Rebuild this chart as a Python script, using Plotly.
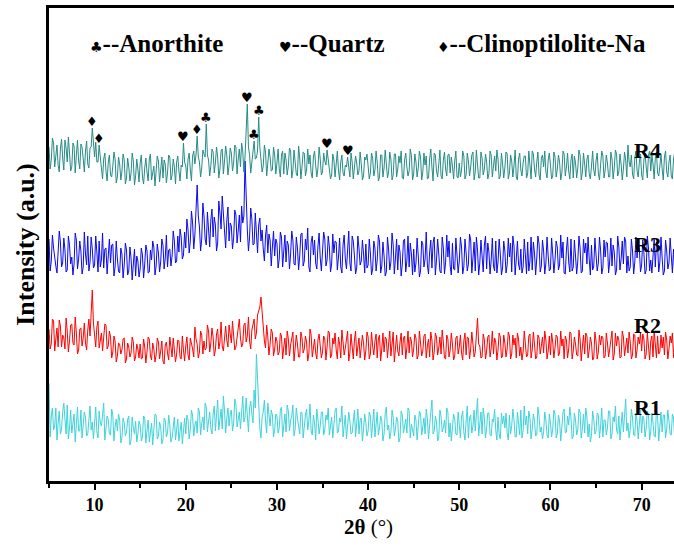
import numpy as np
import plotly.graph_objects as go

# 2-theta sampling: main points (a) at 5.0, 5.25, ... and intermediate points (b) at 5.125, 5.375, ...
two_theta_start = 5.0
two_theta_step = 0.125

# Intensities (a.u.), one row = 5 degrees
r1_a = [
    95, 62, 48, 70, 55, 44, 66, 59, 73, 50, 45, 64, 57, 47, 68, 53, 61, 44, 72, 56,
    60, 46, 67, 52, 75, 49, 58, 43, 63, 51, 47, 58, 40, 55, 46, 62, 38, 50, 57, 44,
    53, 41, 60, 47, 36, 55, 49, 63, 42, 51, 38, 58, 45, 53, 40, 61, 47, 37, 56, 50,
    44, 58, 49, 62, 53, 45, 66, 55, 48, 71, 57, 50, 64, 47, 78, 56, 49, 67, 60, 52,
    68, 54, 74, 58, 49, 82, 61, 55, 70, 64, 88, 124, 72, 40, 66, 57, 75, 52, 63, 48,
    62, 50, 71, 55, 46, 67, 58, 73, 49, 60, 44, 65, 53, 69, 57, 47, 63, 38, 59, 52,
    66, 48, 58, 43, 61, 54, 70, 47, 56, 41, 63, 50, 57, 45, 68, 52, 44, 60, 49, 55,
    47, 62, 55, 41, 66, 50, 58, 44, 71, 53, 46, 60, 49, 57, 40, 63, 52, 45, 67, 54,
    42, 58, 49, 64, 51, 44, 60, 53, 78, 47, 56, 41, 62, 50, 45, 66, 55, 48, 59, 43,
    53, 61, 46, 57, 40, 63, 52, 47, 80, 55, 44, 59, 50, 65, 42, 56, 48, 61, 39, 54,
    50, 45, 63, 52, 58, 41, 55, 68, 47, 53, 44, 60, 49, 57, 43, 62, 51, 46, 58, 40,
    55, 49, 64, 44, 57, 51, 69, 46, 53, 60, 42, 58, 48, 66, 50, 45, 61, 54, 43, 59,
    47, 63, 52, 41, 58, 50, 67, 44, 56, 48, 62, 53, 46, 79, 55, 49, 60, 42, 57, 51,
    45, 59, 50, 64, 47, 55, 41, 61, 52, 46, 63, 49, 57, 43, 60, 51, 45, 58, 48, 54,
    50,
]
r1_b = [
    41, 70, 52, 38, 67, 49, 75, 44, 39, 68, 58, 36, 71, 47, 40, 66, 42, 63, 48, 39,
    71, 40, 55, 65, 38, 62, 44, 69, 37, 59, 64, 35, 60, 42, 58, 33, 61, 44, 36, 57,
    37, 62, 35, 58, 48, 33, 64, 39, 56, 34, 60, 41, 63, 36, 54, 38, 59, 45, 34, 60,
    63, 39, 68, 42, 57, 70, 43, 61, 75, 46, 66, 44, 72, 59, 48, 69, 82, 45, 70, 64,
    47, 79, 51, 66, 73, 56, 80, 46, 77, 55, 70, 95, 50, 61, 78, 45, 58, 68, 41, 64,
    45, 68, 41, 64, 73, 47, 62, 42, 70, 51, 66, 40, 63, 48, 74, 43, 55, 69, 44, 66,
    43, 63, 70, 56, 40, 67, 45, 60, 72, 52, 39, 66, 44, 61, 41, 69, 58, 37, 64, 42,
    66, 40, 69, 58, 43, 62, 37, 65, 48, 39, 68, 42, 61, 36, 67, 45, 59, 70, 40, 46,
    63, 38, 67, 43, 60, 69, 39, 71, 44, 62, 37, 68, 46, 58, 70, 41, 37, 64, 44, 66,
    40, 67, 38, 72, 60, 45, 68, 61, 42, 66, 70, 40, 65, 43, 59, 69, 38, 44, 65, 62,
    65, 38, 44, 69, 41, 66, 43, 40, 72, 62, 67, 39, 64, 42, 71, 46, 39, 66, 43, 64,
    41, 68, 40, 63, 37, 66, 45, 62, 71, 39, 65, 43, 69, 40, 64, 70, 41, 36, 67, 44,
    65, 40, 70, 58, 43, 67, 39, 61, 72, 44, 38, 66, 63, 47, 40, 69, 43, 65, 39, 68,
    62, 41, 67, 38, 65, 42, 69, 37, 66, 63, 40, 68, 44, 64, 39, 67, 62, 41, 66, 43,
]
r2_a = [
    70, 55, 78, 60, 52, 73, 64, 50, 68, 58, 75, 54, 66, 49, 71, 61, 56, 69, 63, 109,
    64, 72, 51, 66, 59, 74, 53, 62, 47, 58, 43, 55, 49, 61, 40, 52, 46, 57, 42, 50,
    55, 41, 52, 47, 60, 39, 50, 44, 57, 48, 38, 54, 46, 62, 42, 51, 45, 58, 40, 49,
    53, 44, 61, 50, 72, 55, 47, 64, 58, 51, 68, 56, 62, 49, 70, 57, 53, 66, 59, 74,
    56, 65, 52, 71, 61, 55, 76, 63, 58, 69, 80, 66, 88, 102, 72, 51, 62, 55, 66, 50,
    58, 47, 63, 52, 44, 60, 54, 67, 48, 55, 42, 61, 50, 57, 45, 64, 51, 46, 59, 53,
    47, 60, 52, 66, 44, 55, 49, 62, 41, 57, 51, 68, 46, 54, 59, 43, 61, 50, 56, 48,
    62, 45, 53, 58, 41, 64, 50, 47, 60, 55, 43, 67, 52, 48, 57, 44, 63, 51, 46, 58,
    50, 61, 44, 56, 48, 65, 53, 42, 59, 47, 62, 51, 45, 57, 40, 60, 49, 55, 43, 63,
    52, 46, 58, 44, 61, 50, 55, 47, 81, 53, 42, 59, 48, 64, 51, 45, 57, 49, 62, 43,
    56, 50, 63, 45, 54, 41, 60, 52, 47, 58, 44, 65, 49, 55, 42, 61, 53, 46, 59, 48,
    44, 57, 51, 62, 46, 53, 40, 59, 50, 66, 48, 55, 43, 60, 52, 45, 63, 49, 56, 41,
    58, 47, 54, 61, 43, 56, 50, 68, 45, 53, 59, 42, 62, 51, 46, 57, 44, 64, 49, 55,
    48, 60, 45, 53, 58, 42, 55, 63, 47, 51, 44, 59, 50, 56, 41, 61, 52, 46, 57, 49,
    53,
]
r2_b = [
    50, 80, 48, 71, 79, 52, 61, 81, 47, 74, 56, 82, 45, 70, 53, 76, 49, 80, 82, 76,
    52, 78, 60, 48, 75, 50, 68, 41, 63, 37, 56, 45, 60, 36, 56, 42, 62, 38, 55, 41,
    40, 60, 36, 62, 43, 56, 37, 61, 40, 58, 35, 57, 39, 53, 61, 37, 59, 42, 63, 38,
    62, 39, 56, 42, 60, 41, 68, 45, 49, 74, 47, 71, 43, 65, 50, 77, 48, 73, 52, 64,
    78, 49, 63, 80, 52, 74, 57, 82, 50, 77, 60, 84, 92, 86, 58, 74, 44, 70, 43, 62,
    44, 66, 40, 61, 68, 43, 62, 38, 64, 42, 67, 46, 63, 38, 70, 42, 60, 40, 65, 41,
    63, 39, 68, 41, 61, 66, 40, 55, 69, 44, 62, 38, 65, 40, 68, 53, 41, 64, 39, 67,
    40, 67, 44, 65, 60, 38, 66, 62, 41, 68, 59, 37, 64, 43, 66, 61, 40, 68, 62, 42,
    65, 40, 68, 43, 63, 41, 60, 67, 39, 66, 44, 62, 69, 41, 64, 42, 66, 39, 61, 45,
    64, 39, 66, 62, 40, 67, 42, 63, 55, 41, 65, 40, 62, 42, 68, 61, 39, 66, 41, 64,
    42, 67, 40, 64, 61, 66, 43, 39, 68, 42, 63, 41, 67, 40, 64, 45, 62, 68, 40, 63,
    66, 41, 64, 43, 68, 60, 63, 41, 67, 40, 62, 44, 69, 38, 64, 66, 41, 62, 39, 67,
    40, 64, 63, 41, 66, 42, 61, 39, 66, 63, 41, 68, 43, 61, 67, 40, 65, 41, 62, 66,
    65, 40, 66, 39, 63, 68, 41, 45, 64, 62, 67, 40, 63, 66, 62, 42, 64, 68, 40, 63,
]
r3_a = [
    72, 50, 63, 45, 58, 69, 48, 61, 41, 66, 54, 47, 71, 52, 60, 44, 57, 75, 49, 62,
    46, 59, 70, 51, 43, 63, 55, 48, 67, 44, 52, 38, 57, 46, 61, 40, 53, 47, 35, 50,
    42, 56, 47, 60, 39, 51, 64, 45, 58, 49, 66, 53, 44, 62, 55, 70, 50, 59, 74, 56,
    63, 81, 70, 88, 76, 126, 84, 72, 95, 66, 79, 91, 74, 86, 68, 98, 115, 77, 90, 70,
    85, 73, 96, 80, 69, 88, 150, 82, 74, 92, 67, 79, 86, 70, 62, 75, 58, 71, 64, 55,
    68, 52, 74, 60, 49, 66, 57, 71, 46, 63, 55, 78, 50, 61, 44, 69, 56, 48, 65, 53,
    60, 72, 51, 64, 47, 58, 69, 54, 44, 66, 52, 61, 48, 75, 55, 43, 63, 50, 57, 67,
    46, 58, 42, 63, 51, 70, 45, 55, 39, 61, 49, 66, 53, 41, 59, 47, 72, 50, 44, 57,
    62, 48, 55, 40, 67, 52, 46, 59, 43, 74, 51, 57, 38, 63, 49, 54, 45, 68, 41, 56,
    50, 64, 44, 58, 47, 71, 53, 40, 61, 48, 55, 66, 42, 59, 51, 45, 70, 49, 57, 43,
    60, 46, 54, 39, 65, 52, 47, 62, 44, 56, 69, 50, 41, 58, 53, 67, 45, 60, 48, 55,
    42, 57, 51, 64, 46, 53, 38, 61, 49, 72, 44, 55, 50, 63, 40, 58, 47, 52, 66, 45,
    56, 48, 61, 43, 54, 68, 50, 45, 59, 41, 64, 52, 47, 70, 55, 44, 60, 49, 53, 62,
    46, 58, 41, 63, 51, 55, 44, 67, 49, 53, 40, 60, 48, 56, 62, 45, 52, 59, 43, 50,
    54,
]
r3_b = [
    40, 76, 52, 38, 80, 44, 73, 39, 75, 47, 36, 78, 42, 70, 37, 79, 46, 40, 74, 43,
    75, 39, 44, 78, 62, 37, 72, 66, 35, 70, 40, 63, 33, 68, 36, 64, 31, 62, 55, 34,
    63, 33, 66, 38, 61, 70, 36, 67, 39, 72, 42, 76, 61, 45, 80, 48, 75, 82, 52, 79,
    92, 58, 100, 62, 104, 95, 60, 108, 72, 99, 64, 102, 94, 60, 110, 82, 97, 63, 104, 88,
    62, 101, 68, 96, 105, 95, 100, 60, 103, 66, 98, 58, 93, 81, 50, 86, 77, 45, 80, 72,
    43, 79, 44, 76, 70, 42, 80, 47, 74, 41, 77, 45, 72, 83, 39, 75, 71, 42, 78, 40,
    79, 45, 75, 39, 77, 70, 41, 73, 38, 76, 42, 80, 40, 70, 37, 75, 46, 71, 38, 43,
    72, 36, 70, 40, 76, 38, 69, 35, 74, 41, 78, 37, 72, 66, 35, 70, 39, 75, 68, 36,
    39, 73, 34, 70, 44, 79, 37, 71, 68, 36, 72, 40, 74, 37, 76, 70, 36, 42, 73, 38,
    74, 37, 72, 40, 77, 38, 69, 74, 36, 71, 39, 75, 68, 37, 73, 40, 38, 72, 36, 70,
    38, 73, 68, 75, 36, 70, 41, 38, 72, 37, 40, 74, 69, 36, 75, 39, 71, 37, 74, 40,
    73, 38, 70, 41, 76, 69, 37, 74, 39, 40, 71, 37, 75, 38, 72, 68, 74, 36, 41, 73,
    40, 74, 37, 71, 69, 38, 73, 66, 36, 75, 41, 70, 74, 38, 40, 72, 37, 74, 68, 39,
    71, 37, 75, 40, 38, 72, 69, 39, 74, 36, 71, 42, 73, 38, 39, 74, 70, 37, 72, 67,
]
r4_a = [
    70, 57, 74, 61, 52, 68, 59, 77, 55, 64, 50, 71, 62, 56, 73, 58, 66, 53, 69, 89,
    60, 55, 72, 50, 58, 46, 55, 42, 51, 58, 40, 53, 46, 57, 39, 50, 44, 56, 41, 48,
    54, 40, 49, 45, 58, 37, 51, 43, 56, 47, 39, 53, 44, 60, 42, 50, 55, 46, 52, 74,
    51, 58, 47, 61, 53, 81, 55, 49, 63, 93, 57, 51, 65, 54, 60, 48, 68, 56, 62, 52,
    64, 54, 70, 58, 50, 66, 60, 113, 62, 55, 76, 59, 100, 57, 51, 65, 54, 60, 47, 62,
    54, 48, 62, 43, 57, 51, 66, 46, 55, 41, 59, 50, 64, 47, 53, 44, 60, 52, 49, 58,
    45, 56, 67, 50, 42, 57, 53, 47, 55, 44, 52, 60, 40, 55, 49, 54, 46, 53, 41, 57,
    51, 44, 59, 47, 55, 40, 62, 49, 53, 45, 58, 42, 63, 48, 54, 39, 57, 50, 46, 61,
    43, 55, 49, 60, 45, 52, 38, 58, 50, 64, 46, 53, 41, 57, 48, 62, 44, 51, 56, 40,
    54, 47, 61, 42, 56, 50, 65, 45, 52, 39, 59, 48, 55, 43, 62, 51, 46, 58, 41, 53,
    49, 63, 44, 56, 51, 40, 58, 47, 54, 61, 43, 52, 66, 48, 55, 42, 59, 50, 45, 57,
    52, 41, 60, 48, 55, 44, 63, 50, 46, 57, 39, 54, 49, 62, 45, 53, 58, 43, 51, 47,
    56, 44, 52, 61, 47, 54, 40, 58, 49, 63, 45, 53, 48, 57, 72, 50, 43, 59, 46, 55,
    42, 57, 50, 62, 46, 53, 59, 44, 51, 48, 60, 45, 55, 41, 58, 49, 54, 47, 61, 52,
    48,
]
r4_b = [
    48, 79, 50, 72, 45, 78, 47, 69, 80, 46, 74, 44, 77, 48, 70, 45, 76, 49, 70, 68,
    75, 55, 60, 38, 64, 36, 62, 40, 65, 34, 60, 37, 63, 33, 59, 36, 64, 32, 58, 35,
    62, 33, 59, 36, 63, 44, 31, 61, 35, 60, 57, 34, 62, 37, 58, 33, 61, 36, 50, 55,
    38, 64, 36, 66, 62, 60, 40, 67, 60, 62, 41, 68, 44, 70, 39, 66, 43, 71, 42, 69,
    46, 72, 43, 68, 74, 45, 80, 70, 44, 60, 58, 66, 70, 45, 72, 41, 68, 46, 70, 43,
    68, 40, 66, 64, 42, 69, 39, 67, 43, 71, 38, 65, 41, 68, 62, 39, 66, 40, 70, 42,
    64, 52, 55, 38, 63, 40, 66, 37, 62, 41, 50, 52, 64, 38, 61, 42, 65, 37, 60, 63,
    38, 64, 41, 66, 36, 62, 40, 67, 39, 65, 37, 63, 40, 61, 66, 38, 64, 41, 68, 37,
    63, 40, 66, 37, 64, 61, 39, 68, 36, 62, 40, 67, 38, 65, 41, 63, 60, 38, 66, 39,
    40, 66, 38, 64, 41, 62, 37, 67, 39, 65, 42, 63, 38, 66, 40, 61, 67, 38, 64, 39,
    65, 38, 62, 40, 67, 37, 64, 41, 61, 39, 66, 38, 63, 40, 65, 37, 62, 66, 39, 64,
    38, 65, 40, 62, 37, 66, 41, 64, 38, 63, 61, 39, 67, 37, 64, 40, 62, 38, 66, 41,
    64, 37, 66, 39, 62, 40, 65, 38, 67, 41, 63, 37, 65, 40, 55, 62, 38, 66, 40, 63,
    37, 64, 39, 66, 62, 38, 65, 41, 63, 37, 66, 40, 62, 38, 65, 41, 63, 67, 39, 64,
]


def interleave(a, b):
    out = []
    for i, v in enumerate(a):
        out.append(v)
        if i < len(b):
            out.append(b[i])
    return out


r1 = interleave(r1_a, r1_b)
r2 = interleave(r2_a, r2_b)
r3 = interleave(r3_a, r3_b)
r4 = interleave(r4_a, r4_b)
two_theta = two_theta_start + two_theta_step * np.arange(len(r1))

series_names = ["R1", "R2", "R3", "R4"]
series_values = [r1, r2, r3, r4]
offsets = [3, 82, 170, 264]          # vertical stacking of patterns
label_lift = [71, 74, 67, 67]        # label height above each offset
colors = ["#3ed3db", "#ff0000", "#0a0aee", "#268c87"]

# phase peak positions marked on R4 (2-theta, degrees)
anorthite_peaks = [22.25, 27.5, 28.0]
quartz_peaks = [19.75, 26.75, 35.5, 37.75]
clino_peaks = [9.75, 10.5, 21.25]
phase_symbols = {"anorthite": "\u2663", "quartz": "\u2665", "clino": "\u2666"}
legend_labels = [("\u2663", "--Anorthite"), ("\u2665", "--Quartz"), ("\u2666", "--Clinoptilolite-Na")]

x_ticks = [10, 20, 30, 40, 50, 60, 70]

serif = "Liberation Serif"
sym_font = "DejaVu Sans"

fig = go.Figure()
for name, vals, off, col in zip(series_names, series_values, offsets, colors):
    fig.add_trace(go.Scatter(
        x=two_theta, y=np.array(vals) + off, mode="lines", name=name,
        line=dict(color=col, width=1), showlegend=False, hoverinfo="skip"))

annotations = []
# series labels at the right
for name, off, lift in zip(series_names, offsets, label_lift):
    annotations.append(dict(x=70.6, y=off + lift, xref="x", yref="y", text="<b>%s</b>" % name,
                            showarrow=False, xanchor="center", yanchor="middle",
                            font=dict(family=serif, size=22, color="black")))

# peak symbols above R4
def peak_marks(peaks, sym):
    for p in peaks:
        idx = int(round((p - two_theta_start) / two_theta_step))
        annotations.append(dict(x=p, y=r4[idx] + offsets[3], xref="x", yref="y",
                                text=sym, showarrow=False, xanchor="center", yanchor="bottom",
                                yshift=-2, borderpad=0,
                                font=dict(family=sym_font, size=13, color="black")))

peak_marks(anorthite_peaks, phase_symbols["anorthite"])
peak_marks(quartz_peaks, phase_symbols["quartz"])
peak_marks(clino_peaks, phase_symbols["clino"])

# phase legend row
legend_x = [0.062, 0.365, 0.617]
for (sym, lab), lx in zip(legend_labels, legend_x):
    annotations.append(dict(
        x=lx, y=0.926, xref="paper", yref="paper", xanchor="left", yanchor="middle",
        text="<span style='font-family:DejaVu Sans;font-size:14px'>%s</span><b>%s</b>" % (sym, lab),
        showarrow=False, font=dict(family=serif, size=25, color="black")))

# axis titles
annotations.append(dict(x=-0.038, y=0.5, xref="paper", yref="paper", textangle=-90,
                        xanchor="center", yanchor="middle",
                        text="<b>Intensity (a.u.)</b>", showarrow=False,
                        font=dict(family=serif, size=26, color="black")))
annotations.append(dict(x=(368 - 49) / 625, y=-0.097, xref="paper", yref="paper",
                        xanchor="center", yanchor="middle",
                        text="<b>2\u03b8</b> (\u00b0)", showarrow=False,
                        font=dict(family=serif, size=21, color="black")))

fig.update_layout(
    width=674, height=549,
    margin=dict(l=49, r=0, t=8, b=68),
    paper_bgcolor="white", plot_bgcolor="white",
    annotations=annotations,
    xaxis=dict(range=[5, 73.55], tickvals=x_ticks, ticktext=["<b>%d</b>" % t for t in x_ticks],
               ticks="outside", ticklen=6, tickwidth=2, tickcolor="black",
               minor=dict(dtick=5, tick0=5, ticks="outside", ticklen=4, tickwidth=2, tickcolor="black"),
               showline=True, linewidth=2.5, linecolor="black", mirror=True,
               showgrid=False, zeroline=False,
               tickfont=dict(family=serif, size=18, color="black")),
    yaxis=dict(range=[0, 473], showticklabels=False, ticks="", showline=True,
               linewidth=2.5, linecolor="black", showgrid=False, zeroline=False),
)

fig.write_html("out.html", config={"displayModeBar": False},
               post_script="document.body.style.margin='0';document.body.style.overflow='hidden';")
